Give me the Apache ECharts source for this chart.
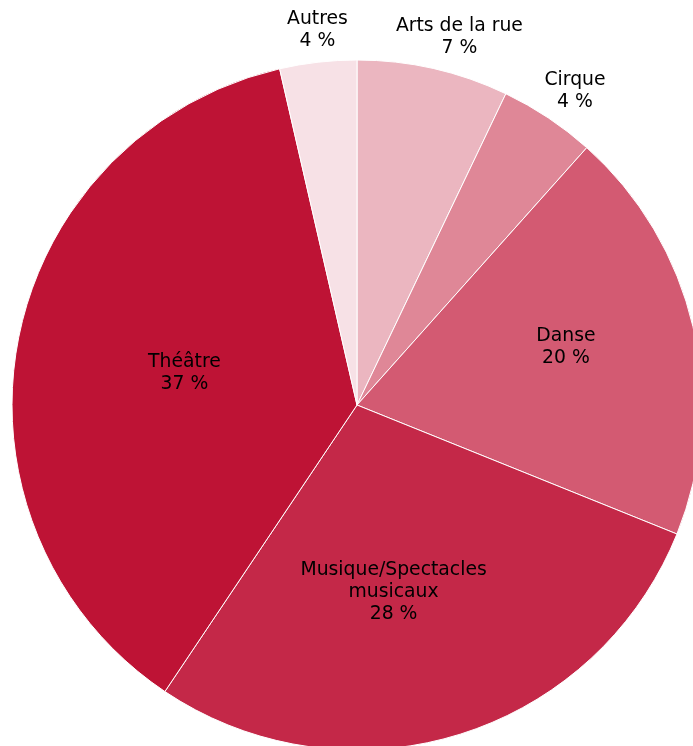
<!DOCTYPE html>
<html>
<head>
<meta charset="utf-8">
<script src="https://cdn.jsdelivr.net/npm/echarts@6/dist/echarts.min.js"></script>
<style>
  html, body { margin: 0; padding: 0; background: #fff; }
  #main { width: 693px; height: 746px; }
</style>
</head>
<body>
<div id="main"></div>
<script>
// slices, clockwise from the top
const categories = ['Arts de la rue', 'Cirque', 'Danse', 'Musique/Spectacles\nmusicaux', 'Théâtre', 'Autres'];
const values = [7.1, 4.5, 19.5, 28.3, 37.0, 3.6];
const pctLabels = ['7 %', '4 %', '20 %', '28 %', '37 %', '4 %'];
const colors = ['#EBB6C0', '#DF8797', '#D35A72', '#C42848', '#BE1335', '#F7E1E6'];
// small slices get their label outside the pie
const outside = [true, true, false, false, false, true];
// small nudges of the labels (best-fit placement in the original)
const labelNudge = [[19, 0], [9, 0], [38, -18], [-15, 19], [0, 0], [3, 0]];

const chart = echarts.init(document.getElementById('main'), null, { renderer: 'canvas' });

const labelFont = {
  fontFamily: 'DejaVu Sans',
  fontSize: 18.8,
  lineHeight: 22,
  color: '#000'
};

const mainData = categories.map((c, i) => ({
  name: c,
  value: values[i],
  itemStyle: { color: colors[i] },
  label: { show: !outside[i], offset: labelNudge[i] }
}));

const ringData = categories.map((c, i) => ({
  name: c,
  value: values[i],
  label: { show: outside[i], offset: labelNudge[i] }
}));

const option = {
  animation: false,
  series: [
    {
      type: 'pie',
      center: [357, 405],
      radius: [0, 345],
      startAngle: 90,
      clockwise: true,
      silent: true,
      itemStyle: { borderColor: '#fff', borderWidth: 1 },
      label: Object.assign({
        position: 'inside',
        formatter: (p) => p.name + '\n' + pctLabels[p.dataIndex]
      }, labelFont),
      labelLine: { show: false },
      data: mainData
    },
    {
      // transparent ring used only to place the outer labels
      type: 'pie',
      center: [357, 405],
      radius: [345, 403],
      startAngle: 90,
      clockwise: true,
      silent: true,
      itemStyle: { color: 'rgba(0,0,0,0)' },
      label: Object.assign({
        position: 'inside',
        formatter: (p) => p.name + '\n' + pctLabels[p.dataIndex]
      }, labelFont),
      labelLine: { show: false },
      data: ringData
    }
  ]
};

chart.setOption(option);
</script>
</body>
</html>
